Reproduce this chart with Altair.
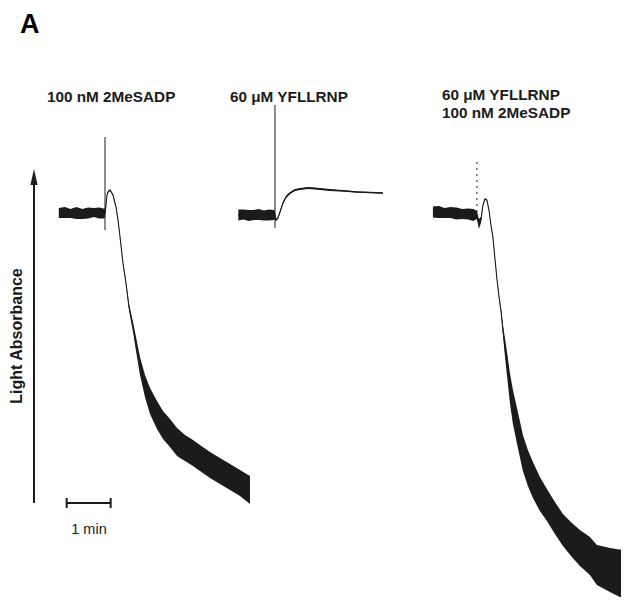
import altair as alt
import pandas as pd

INK = "#1b1b1b"
FONT = "Liberation Sans"

# ---- Trace 1: 100 nM 2MeSADP  (time s from agonist addition, light absorbance a.u., noise half-width a.u.)
t1 = [-63, -55, -47, -39, -31, -23, -15, -8, -2, 0, 1.4, 2.7, 4.1, 6.8, 10.9, 15, 17.7, 20.5, 24.5,
      28.6, 32.7, 38.2, 42.3, 47.7, 54.5, 61.4, 70.9, 79.1, 88.6, 98.2, 109.1, 120, 129.5, 143.2,
      156.8, 170.5, 184.1, 197.7]
a1 = [0, 0.5, -0.5, 0, -1, 0, 0.5, 0, -0.5, 0, 8, 18, 21, 23, 18, 6, -7, -24, -50,
      -70, -94, -114, -131, -153, -173, -188, -202, -212, -220, -229, -235, -240, -245, -252,
      -258, -264, -270, -277]
h1 = [5, 5.5, 4.5, 6, 5, 5.5, 4.5, 5.5, 5, 4.5, 0.8, 0.8, 0.8, 0.8, 0.8, 0.8, 0.8, 0.8, 1,
      1.5, 3, 5, 7, 9, 11, 13, 14, 14, 14, 14, 13, 13, 13, 13,
      13, 13, 13, 14]
spike1 = (0, 76, -17)

# ---- Trace 2: 60 uM YFLLRNP
t2 = [-50, -43, -36, -29, -22, -15, -8, -2, 0, 1.4, 4.1, 6.8, 10.9, 15, 20.5, 27.3, 34.1, 45,
      54.5, 75, 95.5, 111.8, 129.5, 147.3]
a2 = [0, 0.5, -0.5, 0, 0.5, -0.5, 0, 0, 0, -5, -3, 3, 12, 18, 22, 25, 26, 27,
      26.5, 25, 24, 23, 22.5, 22]
h2 = [5.5, 5, 5.5, 5, 5.5, 5, 5.5, 5, 4.5, 1, 1, 1.2, 1.2, 1.2, 1, 1, 1, 1,
      1, 1, 0.8, 0.8, 0.8, 0.8]
spike2 = (0, 110, -13)

# ---- Trace 3: 60 uM YFLLRNP + 100 nM 2MeSADP
t3 = [-60, -52, -44, -36, -28, -20, -12, -5, 0, 2.7, 5.5, 8.2, 10.9, 13.6, 16.4, 19.1, 21.8,
      24.5, 27.3, 30, 32.7, 35.5, 38.2, 40.9, 45, 49.1, 55.9, 62.7, 69.5, 76.4, 85.9, 95.5,
      106.4, 117.3, 129.5, 140.5, 154.1, 163.6, 181.4, 197.7]
a3 = [0, 0, -1, -0.5, -1.5, -2, -2, -3, -3, -12, -8, 7, 13, 12, 2, -13, -25,
      -46, -67, -84, -98, -118, -135, -151, -176, -195, -218, -241, -256, -268, -282, -293,
      -306, -318, -328, -336, -344, -353, -358, -362]
h3 = [5.5, 6, 5, 5.5, 6, 5, 5.5, 6, 4, 5, 3, 0.8, 0.8, 0.8, 0.8, 0.8, 0.8,
      0.8, 0.8, 1, 2, 5, 9, 12, 15, 17, 18, 18, 18, 18, 17, 16,
      16, 16, 17, 18, 19, 20, 22, 24]
spike3 = (0, 50, -5)

titles = [["100 nM 2MeSADP"], ["60 \u03bcM YFLLRNP"], ["60 \u03bcM YFLLRNP", "100 nM 2MeSADP"]]
names = ["2MeSADP", "YFLLRNP", "YFLLRNP + 2MeSADP"]

# ---- layout: where each trace sits on the shared time / absorbance canvas
X_DOMAIN = [0, 836]          # seconds
Y_DOMAIN = [-384, 205]       # a.u.
offsets = [(132.3, 0), (364.1, -2), (639.5, 1)]   # (time offset s, absorbance offset)
title_pos = [(39, 82), (222, 82), (434, 80)]

rows, spikes = [], []
for name, (t, a, h), sp, (g0, y0) in zip(
        names, [(t1, a1, h1), (t2, a2, h2), (t3, a3, h3)], [spike1, spike2, spike3], offsets):
    for ti, ai, hi in zip(t, a, h):
        rows.append(dict(trace=name, G=g0 + ti, Y=y0 + ai, hi=y0 + ai + hi, lo=y0 + ai - hi))
    spikes.append(dict(trace=name, G=g0 + sp[0], Y=y0 + sp[1], lo=y0 + sp[2]))
df = pd.DataFrame(rows)
sp_df = pd.DataFrame(spikes)

xs = alt.Scale(domain=X_DOMAIN, nice=False, zero=False)
ys = alt.Scale(domain=Y_DOMAIN, nice=False, zero=False)

band = alt.Chart(df).mark_area(color=INK, interpolate="linear").encode(
    x=alt.X("G:Q", scale=xs, axis=None),
    y=alt.Y("hi:Q", scale=ys, axis=None),
    y2="lo:Q",
    detail="trace:N",
)
line = alt.Chart(df).mark_line(color=INK, strokeWidth=1.1).encode(
    x=alt.X("G:Q", scale=xs, axis=None),
    y=alt.Y("Y:Q", scale=ys, axis=None),
    detail="trace:N",
)
spk_solid = alt.Chart(sp_df[sp_df.trace != names[2]]).mark_rule(color=INK, strokeWidth=1).encode(
    x=alt.X("G:Q", scale=xs, axis=None), y=alt.Y("Y:Q", scale=ys, axis=None), y2="lo:Q")
spk_dash = alt.Chart(sp_df[sp_df.trace == names[2]]).mark_rule(
    color=INK, strokeWidth=1, strokeDash=[2, 4]).encode(
    x=alt.X("G:Q", scale=xs, axis=None), y=alt.Y("Y:Q", scale=ys, axis=None), y2="lo:Q")

# titles (multi-line titles drawn as one text block)
title_layers = []
for lines, (px, py) in zip(titles, title_pos):
    title_layers.append(
        alt.Chart(pd.DataFrame({"k": [0]})).mark_text(
            text=lines if len(lines) > 1 else lines[0], lineHeight=18,
            font=FONT, fontSize=15.3, fontWeight="bold", align="left", baseline="top",
            color=INK).encode(x=alt.value(px), y=alt.value(py)))

panel = alt.Chart(pd.DataFrame({"t": ["A"]})).mark_text(
    font=FONT, fontSize=27, fontWeight="bold", align="left", baseline="alphabetic", color="#000"
).encode(text="t:N", x=alt.value(12), y=alt.value(25))

ylabel = alt.Chart(pd.DataFrame({"t": ["Light Absorbance"]})).mark_text(
    font=FONT, fontSize=16, fontWeight="bold", angle=270, align="center", baseline="middle",
    color=INK).encode(text="t:N", x=alt.value(9), y=alt.value(328))

arrow_shaft = alt.Chart(pd.DataFrame({"a": [0]})).mark_rule(color=INK, strokeWidth=2).encode(
    x=alt.value(26), y=alt.value(172), y2=alt.value(495))
arrow_head = alt.Chart(pd.DataFrame({"a": [0]})).mark_point(
    shape="M0,-1L0.45,1L-0.45,1Z", filled=True, color=INK, opacity=1, size=256).encode(
    x=alt.value(26), y=alt.value(169))

# scale bar: 1 min
SCALE_BAR = [80, 140]   # seconds
sb = pd.DataFrame({"G": [SCALE_BAR[0]], "G2": [SCALE_BAR[1]]})
sb_ends = pd.DataFrame({"G": SCALE_BAR})
bar = alt.Chart(sb).mark_rule(color=INK, strokeWidth=2).encode(
    x=alt.X("G:Q", scale=xs, axis=None), x2="G2:Q", y=alt.value(495))
caps = alt.Chart(sb_ends).mark_rule(color=INK, strokeWidth=2).encode(
    x=alt.X("G:Q", scale=xs, axis=None), y=alt.value(490), y2=alt.value(500))
bar_label = alt.Chart(pd.DataFrame({"t": ["1 min"]})).mark_text(
    font=FONT, fontSize=14.5, align="center", baseline="middle", color=INK).encode(
    text="t:N", x=alt.value(81), y=alt.value(522))

chart = alt.layer(
    band, line, spk_solid, spk_dash, *title_layers, panel, ylabel, arrow_shaft, arrow_head,
    bar, caps, bar_label
).properties(width=613, height=589, padding=0, autosize="none", background="white"
).configure_view(stroke=None)

chart.save("out.html", embed_options={"renderer": "svg", "actions": False})
